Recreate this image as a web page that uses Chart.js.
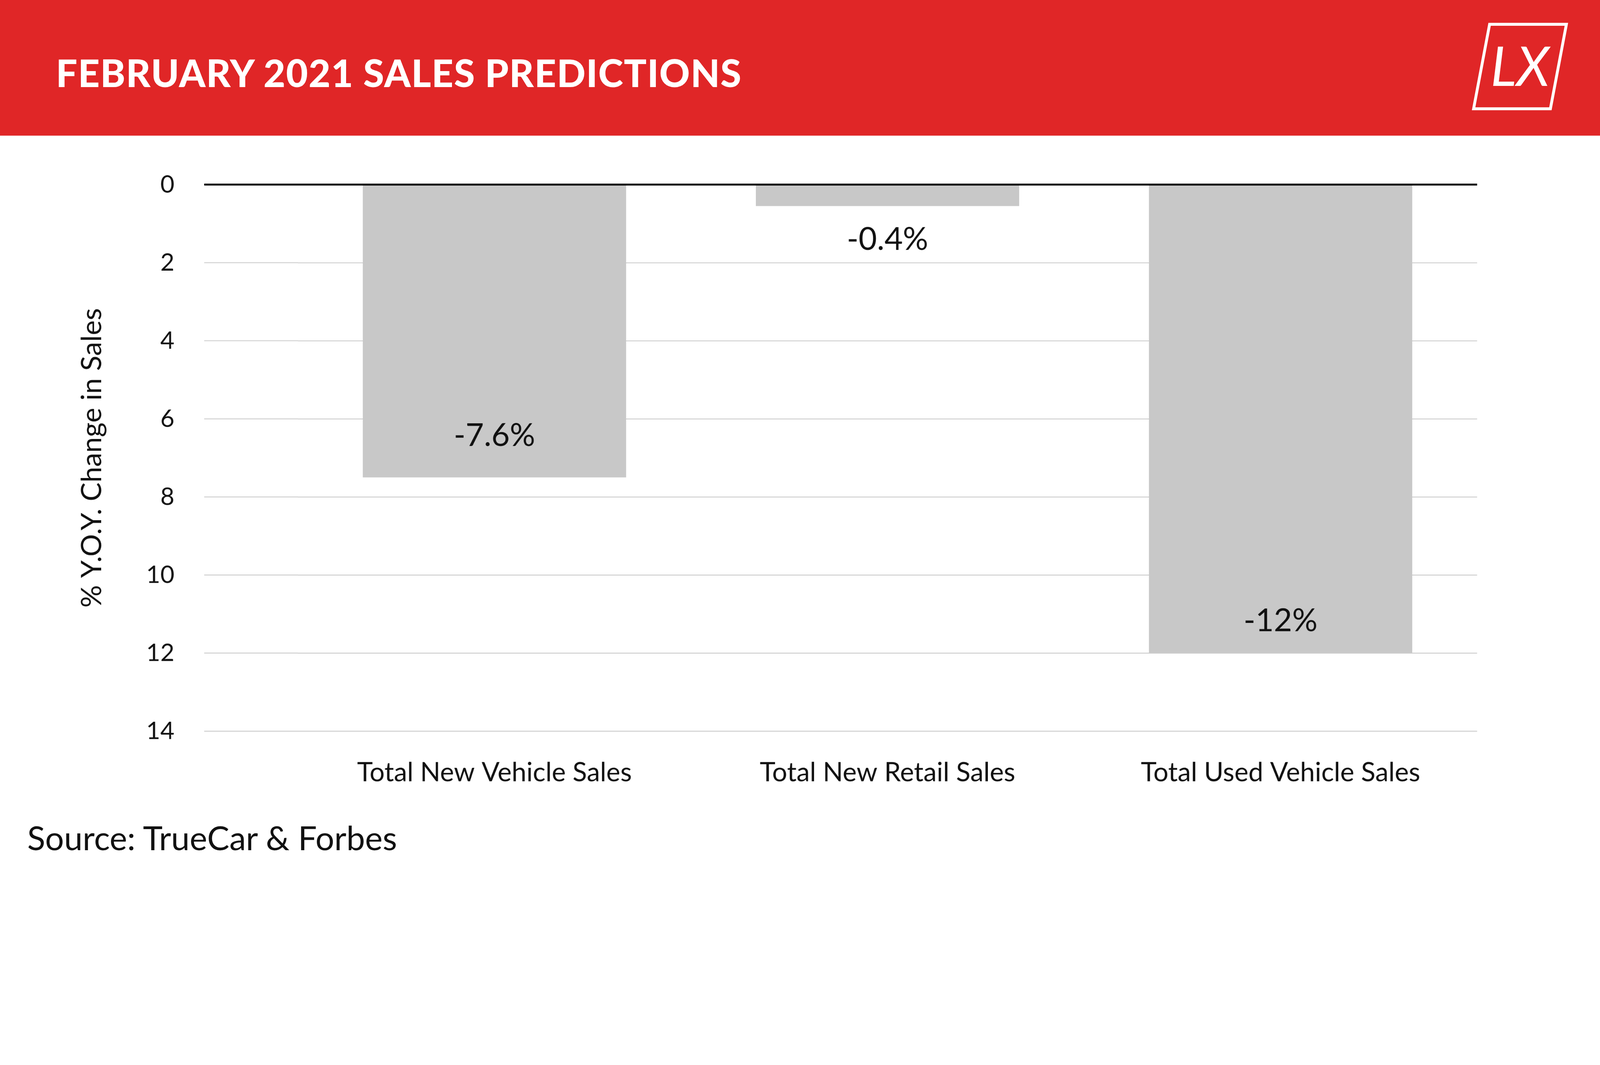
<!DOCTYPE html>
<html>
<head>
<meta charset="utf-8">
<script src="https://cdn.jsdelivr.net/npm/chart.js@4"></script>
<style>
  html, body { margin: 0; padding: 0; overflow: hidden; background: #fff; }
  #page { width: 5000px; height: 2727px; position: relative; transform-origin: 0 0; font-family: Lato, "Open Sans", sans-serif; }
  #header { position: absolute; left: 0; top: 0; width: 5000px; height: 424px; background: #e02627; }
  #title { position: absolute; left: 175px; top: 156px; color: #fff; font: 900 118px Lato, sans-serif; letter-spacing: 2px; }
  #logo { position: absolute; left: 4595px; top: 68px; }
  #wrap { position: absolute; left: 0; top: 424px; width: 5000px; height: 2303px; }
  #source { position: absolute; left: 85px; top: 2555px; font: 104px Lato, sans-serif; color: #111; }
</style>
</head>
<body>
<div id="page">
<div id="header">
  <div id="title">FEBRUARY 2021 SALES PREDICTIONS</div>
  <svg id="logo" width="310" height="280" viewBox="0 0 310 280">
    <polygon points="60,8 300,8 250,272 10,272" fill="none" stroke="#fff" stroke-width="9"/>
    <text x="155" y="200" fill="#fff" font-family="Lato" font-style="italic" font-size="170" text-anchor="middle">LX</text>
  </svg>
</div>
<div id="wrap"><canvas id="myChart" width="5000" height="2303" style="width:5000px;height:2303px"></canvas></div>
<div id="source">Source: TrueCar &amp; Forbes</div>
</div>
<script>
var categories = ["Total New Vehicle Sales", "Total New Retail Sales", "Total Used Vehicle Sales"];
var declineValues = [7.5, 0.55, 12];
var valueLabels = ["-7.6%", "-0.4%", "-12%"];
var labelOffsets = [-130, 105, -100];

var s = window.innerWidth / 5000;
document.getElementById("page").style.transform = "scale(" + s + ")";

var gridStart = 638;
var tickRight = 545;
var plotLeft = 931;
var padLeft = 235;

// grid lines run further left than the bars' category range; tick labels drawn here too
var gridExtend = {
    id: "gridExtend",
    beforeDatasetsDraw(chart) {
        let ctx = chart.ctx;
        let y = chart.scales.y;
        ctx.save();
        ctx.font = "76px Lato";
        ctx.fillStyle = "#111";
        ctx.textAlign = "right";
        ctx.textBaseline = "middle";
        y.ticks.forEach(function (t) {
            let py = y.getPixelForValue(t.value);
            ctx.beginPath();
            ctx.strokeStyle = t.value === 0 ? "#000" : "#d0d0d0";
            ctx.lineWidth = t.value === 0 ? 6 : 3;
            ctx.moveTo(gridStart, py);
            ctx.lineTo(chart.chartArea.left, py);
            ctx.stroke();
            ctx.fillText(String(t.value), tickRight, py);
        });
        ctx.restore();
    }
};

var barLabels = {
    id: "barLabels",
    afterDatasetsDraw(chart) {
        let ctx = chart.ctx;
        let meta = chart.getDatasetMeta(0);
        ctx.save();
        ctx.font = "99px Lato";
        ctx.fillStyle = "#111";
        ctx.textAlign = "center";
        ctx.textBaseline = "middle";
        meta.data.forEach(function (bar, i) {
            ctx.fillText(valueLabels[i], bar.x, bar.y + labelOffsets[i]);
        });
        ctx.restore();
    }
};

new Chart("myChart", {
    type: "bar",
    data: {
        labels: categories,
        datasets: [{
            backgroundColor: "#c8c8c8",
            data: declineValues,
            barPercentage: 0.67,
            categoryPercentage: 1
        }]
    },
    options: {
        responsive: false,
        animation: false,
        devicePixelRatio: 1,
        layout: { padding: { top: 153, left: padLeft, right: 384, bottom: 190 } },
        plugins: { legend: { display: false }, tooltip: { enabled: false } },
        scales: {
            y: {
                reverse: true,
                min: 0,
                max: 14,
                ticks: { stepSize: 2, color: "rgba(0,0,0,0)", font: { size: 70, family: "Lato" }, padding: 85 },
                afterFit: function (scale) { scale.width = plotLeft - padLeft; },
                grid: {
                    color: function (c) { return c.tick.value === 0 ? "#000" : "#d0d0d0"; },
                    lineWidth: function (c) { return c.tick.value === 0 ? 6 : 3; },
                    drawTicks: false
                },
                border: { display: false },
                title: { display: true, text: "% Y.O.Y. Change in Sales", color: "#111", font: { size: 88, family: "Lato" }, padding: { top: 0, bottom: 0 } }
            },
            x: {
                grid: { display: false },
                border: { display: false },
                ticks: { color: "#111", font: { size: 83, family: "Lato" }, padding: 72, maxRotation: 0, autoSkip: false }
            }
        }
    },
    plugins: [gridExtend, barLabels]
});
</script>
</body>
</html>
